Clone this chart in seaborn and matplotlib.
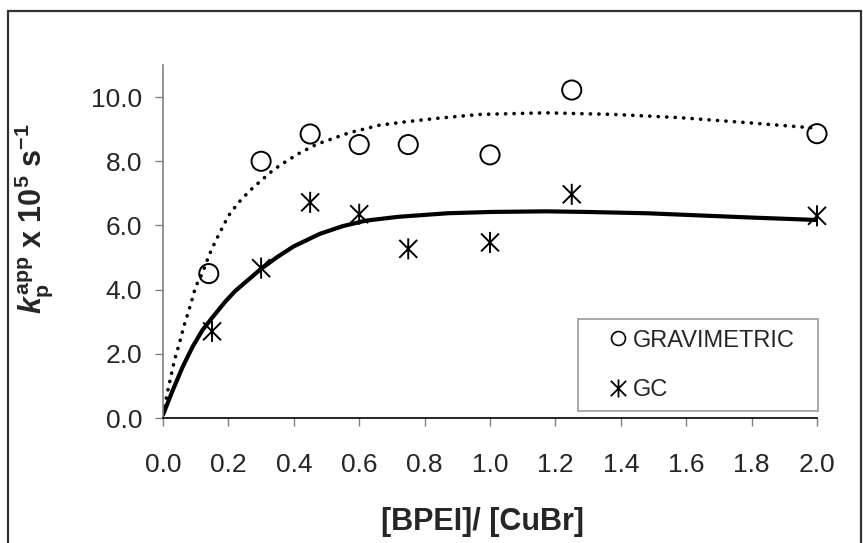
import matplotlib
matplotlib.use('Agg')
import matplotlib.pyplot as plt
import matplotlib.patches as mpatches
from matplotlib.lines import Line2D
from matplotlib.path import Path
import pandas as pd
import seaborn as sns

# measured points
ratio = [0.15, 0.3, 0.45, 0.6, 0.75, 1.0, 1.25, 2.0]
ratio_grav = [0.14, 0.3, 0.45, 0.6, 0.75, 1.0, 1.25, 2.0]
kp_grav = [4.5, 8.0, 8.85, 8.52, 8.52, 8.2, 10.22, 8.86]
kp_gc = [2.7, 4.67, 6.72, 6.35, 5.27, 5.47, 6.97, 6.3]

# trend curves
fit_grav_x = [0.0, 0.015, 0.035, 0.05, 0.065, 0.085, 0.10, 0.12, 0.14, 0.16, 0.18, 0.20,
              0.23, 0.265, 0.30, 0.34, 0.38, 0.42, 0.47, 0.57, 0.66, 0.75, 0.85, 0.97,
              1.17, 1.38, 1.58, 1.79, 2.0]
fit_grav_y = [0.1, 0.87, 1.8, 2.32, 2.9, 3.55, 4.1, 4.5, 5.05, 5.5, 5.9, 6.3,
              6.7, 7.08, 7.4, 7.75, 8.02, 8.27, 8.53, 8.89, 9.12, 9.24, 9.35, 9.46,
              9.51, 9.46, 9.36, 9.2, 9.03]
fit_gc_x = [0.0, 0.03, 0.06, 0.09, 0.12, 0.15, 0.19, 0.22, 0.26, 0.30, 0.35, 0.40,
            0.48, 0.55, 0.62, 0.72, 0.87, 1.0, 1.17, 1.3, 1.48, 1.79, 2.0]
fit_gc_y = [0.1, 0.87, 1.59, 2.21, 2.73, 3.12, 3.62, 3.95, 4.3, 4.65, 5.02, 5.35,
            5.74, 5.98, 6.15, 6.27, 6.38, 6.42, 6.44, 6.42, 6.38, 6.25, 6.17]

x_ticks = [0.0, 0.2, 0.4, 0.6, 0.8, 1.0, 1.2, 1.4, 1.6, 1.8, 2.0]
y_ticks = [0.0, 2.0, 4.0, 6.0, 8.0, 10.0]

sns.set_style('ticks')
plt.rcParams['font.family'] = ['Liberation Sans', 'DejaVu Sans']
plt.rcParams['mathtext.fontset'] = 'custom'
plt.rcParams['mathtext.rm'] = 'Liberation Sans:bold'
plt.rcParams['mathtext.bf'] = 'Liberation Sans:bold'
plt.rcParams['mathtext.it'] = 'Liberation Sans:italic:bold'

# excel style star: vertical bar plus an X
star = Path([(0, -1), (0, 1), (-0.85, -0.85), (0.85, 0.85), (-0.85, 0.85), (0.85, -0.85)],
            [Path.MOVETO, Path.LINETO, Path.MOVETO, Path.LINETO, Path.MOVETO, Path.LINETO])

fig = plt.figure(figsize=(8.63, 5.43), dpi=100)
ax = fig.add_axes([163 / 863, 1 - 418 / 543, 654 / 863, 353 / 543])

grav_fit = pd.DataFrame({'x': fit_grav_x, 'y': fit_grav_y})
gc_fit = pd.DataFrame({'x': fit_gc_x, 'y': fit_gc_y})
sns.lineplot(data=grav_fit, x='x', y='y', ax=ax, color='black', linewidth=2.6,
             linestyle=(0, (0.05, 2.3)), dash_capstyle='round', estimator=None)
sns.lineplot(data=gc_fit, x='x', y='y', ax=ax, color='black', linewidth=3.0,
             estimator=None)

ax.scatter(ratio_grav, kp_grav, s=190, marker='o', facecolors='none',
           edgecolors='black', linewidths=1.4, zorder=3, clip_on=False)
ax.scatter(ratio, kp_gc, s=230, marker=star, facecolors='none',
           edgecolors='black', linewidths=1.4, zorder=3, clip_on=False)

ax.set_xlim(0, 2.0)
ax.set_ylim(0, 11)
ax.set_xticks(x_ticks)
ax.set_yticks(y_ticks)
ax.set_xticklabels([f'{v:.1f}' for v in x_ticks])
ax.set_yticklabels([f'{v:.1f}' for v in y_ticks])
ax.tick_params(axis='x', length=6, width=1, color='#808080', pad=19, labelsize=19)
ax.tick_params(axis='y', length=6, width=1, color='#808080', pad=9, labelsize=19)

sns.despine(ax=ax)
ax.spines['left'].set_color('#808080')
ax.spines['left'].set_linewidth(1.2)
ax.spines['bottom'].set_color('black')
ax.spines['bottom'].set_linewidth(1.2)

ax.set_xlabel('[BPEI]/ [CuBr]', fontsize=22, fontweight='bold')
ax.set_ylabel(r'$k_{\mathrm{p}}^{\mathrm{app}}$ x 10$^{5}$ s$^{-1}$', fontsize=22,
              fontweight='bold')
ax.xaxis.set_label_coords(0.489, -0.252)
ax.yaxis.set_label_coords(-0.165, 0.564)

handles = [
    Line2D([], [], linestyle='none', marker='o', markersize=10, markerfacecolor='none',
           markeredgecolor='black', markeredgewidth=1.2, label='GRAVIMETRIC'),
    Line2D([], [], linestyle='none', marker=star, markersize=13, markerfacecolor='none',
           markeredgecolor='black', markeredgewidth=1.3, label='GC'),
]
leg = ax.legend(handles=handles, loc='upper left', mode='expand',
                bbox_to_anchor=(578 / 863, 1 - 412 / 543, 240 / 863, 93 / 543),
                bbox_transform=fig.transFigure, borderaxespad=0, fontsize=17,
                frameon=True, fancybox=False, borderpad=0.45, labelspacing=1.15,
                handlelength=2.5, handletextpad=-0.62)
leg.get_frame().set_edgecolor('#808080')
leg.get_frame().set_linewidth(1.2)

# outer chart border
fig.patches.append(mpatches.Rectangle((8 / 863, -0.1), 853 / 863, 1.1 - 11 / 543,
                                      transform=fig.transFigure, fill=False,
                                      edgecolor='#333333', linewidth=1.6))

fig.savefig('out.png', dpi=100)
